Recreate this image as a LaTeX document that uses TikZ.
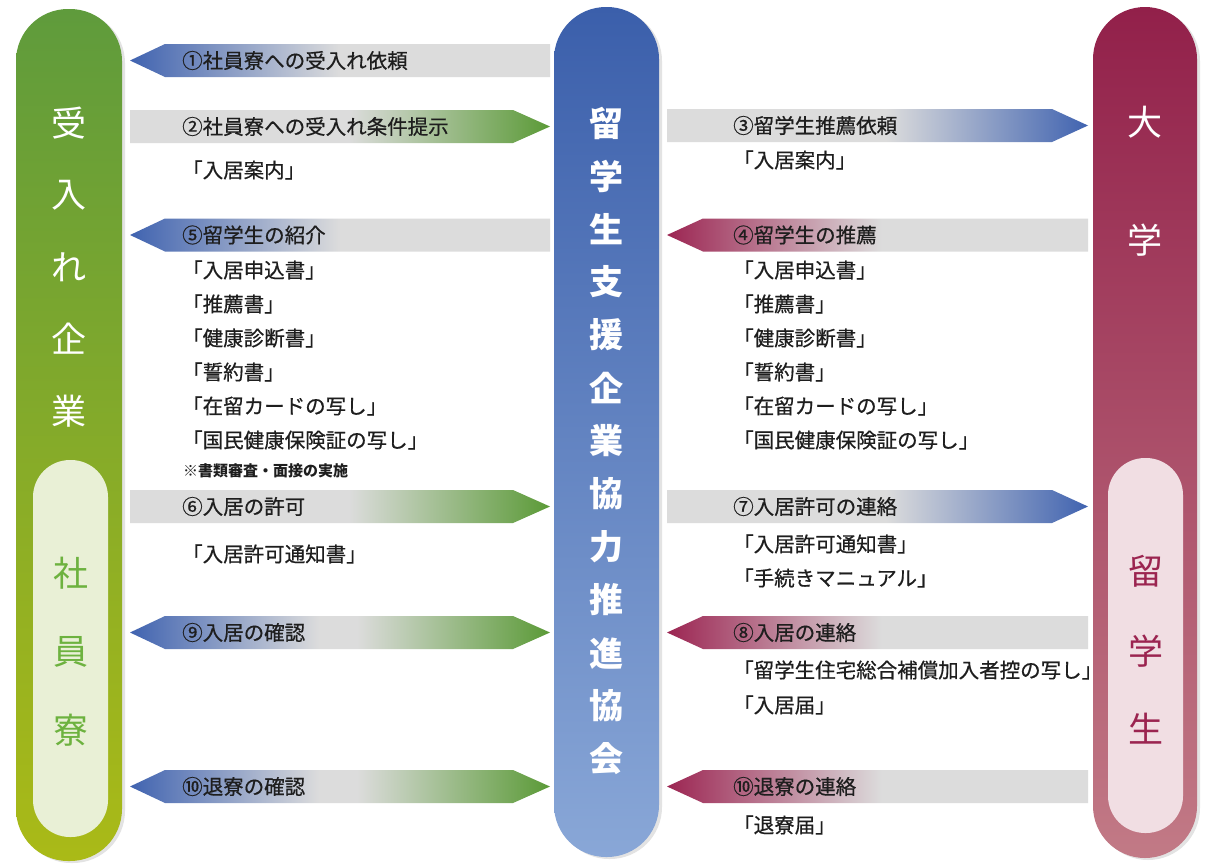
\documentclass[tikz,border=0pt]{standalone}
\usepackage{fontspec}
\setmainfont{Noto Sans CJK JP}
\newfontfamily\lblfont{Noto Sans CJK JP}[FakeBold=0.6]
\usetikzlibrary{shadows}
\definecolor{gbar}{HTML}{DCDCDC}
\definecolor{ablue}{HTML}{4063B0}
\definecolor{agreen}{HTML}{5B9A37}
\definecolor{amaroon}{HTML}{9C2552}
\definecolor{txt}{HTML}{1E1E1E}
\definecolor{lgtop}{HTML}{5F9B3C}
\definecolor{lgmid}{HTML}{7FB53D}
\definecolor{lgbot}{HTML}{AABA17}
\definecolor{cbtop}{HTML}{3B5FAB}
\definecolor{cbmid}{HTML}{4D71B7}
\definecolor{cbbot}{HTML}{89A7D7}
\definecolor{rmtop}{HTML}{92204A}
\definecolor{rmmid}{HTML}{A6455F}
\definecolor{rmbot}{HTML}{C27A86}
\definecolor{linner}{HTML}{E9F0D6}
\definecolor{ltext}{HTML}{6DB23F}
\definecolor{rinner}{HTML}{F1DEE3}
\definecolor{rtext}{HTML}{9B2450}
\pgfdeclarehorizontalshading{shBG}{100bp}{color(0bp)=(ablue); color(25bp)=(ablue); color(50bp)=(gbar); color(100bp)=(gbar)}
\pgfdeclarehorizontalshading{shGG}{100bp}{color(0bp)=(gbar); color(51bp)=(gbar); color(75bp)=(agreen); color(100bp)=(agreen)}
\pgfdeclarehorizontalshading{shBGG}{100bp}{color(0bp)=(ablue); color(25bp)=(ablue); color(47.5bp)=(gbar); color(52bp)=(gbar); color(75bp)=(agreen); color(100bp)=(agreen)}
\pgfdeclarehorizontalshading{shGB}{100bp}{color(0bp)=(gbar); color(51bp)=(gbar); color(75bp)=(ablue); color(100bp)=(ablue)}
\pgfdeclarehorizontalshading{shMG}{100bp}{color(0bp)=(amaroon); color(25bp)=(amaroon); color(50.5bp)=(gbar); color(100bp)=(gbar)}
\tikzset{
  lbl/.style={anchor=west, inner sep=0pt, text=txt, font=\fontsize{20.5}{24}\lblfont},
  note/.style={anchor=west, inner sep=0pt, text=txt, font=\fontsize{15}{18}\selectfont\bfseries},
  pchar/.style={inner sep=0pt, text=white, font=\fontsize{35}{40}\selectfont},
  cchar/.style={inner sep=0pt, text=white, font=\fontsize{34}{40}\selectfont\bfseries},
  pshadow/.style={drop shadow={opacity=0.22, shadow xshift=3pt, shadow yshift=-2pt}},
}
% arrows: #1 = centre y, #2 = shading
\newcommand\arwLeftL[2]{\shade[shading=#2] (130,#1) -- (165,#1-16.5) -- (550,#1-16.5) -- (550,#1+16.5) -- (165,#1+16.5) -- cycle;}
\newcommand\arwLeftR[2]{\shade[shading=#2] (130,#1-16.5) -- (513,#1-16.5) -- (550,#1) -- (513,#1+16.5) -- (130,#1+16.5) -- cycle;}
\newcommand\arwLeftD[2]{\shade[shading=#2] (130,#1) -- (165,#1-16.5) -- (513,#1-16.5) -- (550,#1) -- (513,#1+16.5) -- (165,#1+16.5) -- cycle;}
\newcommand\arwRightL[2]{\shade[shading=#2] (667,#1) -- (703,#1-16.5) -- (1088,#1-16.5) -- (1088,#1+16.5) -- (703,#1+16.5) -- cycle;}
\newcommand\arwRightR[2]{\shade[shading=#2] (667,#1-16.5) -- (1052,#1-16.5) -- (1088,#1) -- (1052,#1+16.5) -- (667,#1+16.5) -- cycle;}
\begin{document}
\begin{tikzpicture}[x=1pt,y=-1pt]
\useasboundingbox (0,0) rectangle (1213,863);
\fill[white] (0,0) rectangle (1213,863);

% pillars
\shade[pshadow, top color=lgtop, middle color=lgmid, bottom color=lgbot, rounded corners=52pt] (16,9) rectangle (122,861);
\fill[linner, rounded corners=37pt] (33,460) rectangle (108,837);
\shade[pshadow, top color=cbtop, middle color=cbmid, bottom color=cbbot, rounded corners=52pt] (554,7) rectangle (659,857);
\shade[pshadow, top color=rmtop, middle color=rmmid, bottom color=rmbot, rounded corners=52pt] (1093,7) rectangle (1197,858);
\fill[rinner, rounded corners=37pt] (1108,458) rectangle (1183,833);

% left pillar text
\node[pchar] (l1) at (69,123) {受};
\node[pchar] (l2) at (69,195) {入};
\node[pchar] (l3) at (69,267) {れ};
\node[pchar] (l4) at (69,339) {企};
\node[pchar] (l5) at (69,411) {業};
\node[pchar, text=ltext] (l6) at (70.5,573) {社};
\node[pchar, text=ltext] (l7) at (70.5,652) {員};
\node[pchar, text=ltext] (l8) at (70.5,730) {寮};

% centre pillar text
\foreach \c [count=\i from 0] in {留,学,生,支,援,企,業,協,力,推,進,協,会}{
  \node[cchar] (c\i) at (606.5,123+53*\i) {\c};
}

% right pillar text
\node[pchar] (r1) at (1145,122) {大};
\node[pchar] (r2) at (1145,240) {学};
\node[pchar, text=rtext] (r3) at (1145.5,571) {留};
\node[pchar, text=rtext] (r4) at (1145.5,651) {学};
\node[pchar, text=rtext] (r5) at (1145.5,729) {生};

% left arrows
\arwLeftL{60.5}{shBG}
\arwLeftR{126.5}{shGG}
\arwLeftL{235}{shBG}
\arwLeftR{506.5}{shGG}
\arwLeftD{632.5}{shBGG}
\arwLeftD{786.5}{shBGG}
% right arrows
\arwRightR{125.5}{shGB}
\arwRightL{235}{shMG}
\arwRightR{506.5}{shGB}
\arwRightL{632.5}{shMG}
\arwRightL{786.5}{shMG}

% left labels
\node[lbl] (a1) at (182,60.5) {①社員寮への受入れ依頼};
\node[lbl] (a2) at (182,126.5) {②社員寮への受入れ条件提示};
\node[lbl] (d1) at (182,170) {「入居案内」};
\node[lbl] (a5) at (182,235) {⑤留学生の紹介};
\node[lbl] (d2) at (182,270) {「入居申込書」};
\node[lbl] (d3) at (182,304) {「推薦書」};
\node[lbl] (d4) at (182,338) {「健康診断書」};
\node[lbl] (d5) at (182,372) {「誓約書」};
\node[lbl] (d6) at (182,406) {「在留カードの写し」};
\node[lbl] (d7) at (182,440) {「国民健康保険証の写し」};
\node[note] (n1) at (183,471) {※書類審査・面接の実施};
\node[lbl] (a6) at (182,506.5) {⑥入居の許可};
\node[lbl] (d8) at (182,554) {「入居許可通知書」};
\node[lbl] (a9) at (182,632.5) {⑨入居の確認};
\node[lbl] (a10) at (182,786.5) {⑩退寮の確認};

% right labels
\node[lbl] (b3) at (733,125.5) {③留学生推薦依頼};
\node[lbl] (e1) at (733,160) {「入居案内」};
\node[lbl] (b4) at (733,235) {④留学生の推薦};
\node[lbl] (e2) at (733,270) {「入居申込書」};
\node[lbl] (e3) at (733,304) {「推薦書」};
\node[lbl] (e4) at (733,338) {「健康診断書」};
\node[lbl] (e5) at (733,372) {「誓約書」};
\node[lbl] (e6) at (733,406) {「在留カードの写し」};
\node[lbl] (e7) at (733,440) {「国民健康保険証の写し」};
\node[lbl] (b7) at (733,506.5) {⑦入居許可の連絡};
\node[lbl] (e8) at (733,544) {「入居許可通知書」};
\node[lbl] (e9) at (733,578) {「手続きマニュアル」};
\node[lbl] (b8) at (733,632.5) {⑧入居の連絡};
\node[lbl] (e10) at (733,670) {「留学生住宅総合補償加入者控の写し」};
\node[lbl] (e11) at (733,705) {「入居届」};
\node[lbl] (b10) at (733,786.5) {⑩退寮の連絡};
\node[lbl] (e12) at (733,825) {「退寮届」};
\end{tikzpicture}
\end{document}
